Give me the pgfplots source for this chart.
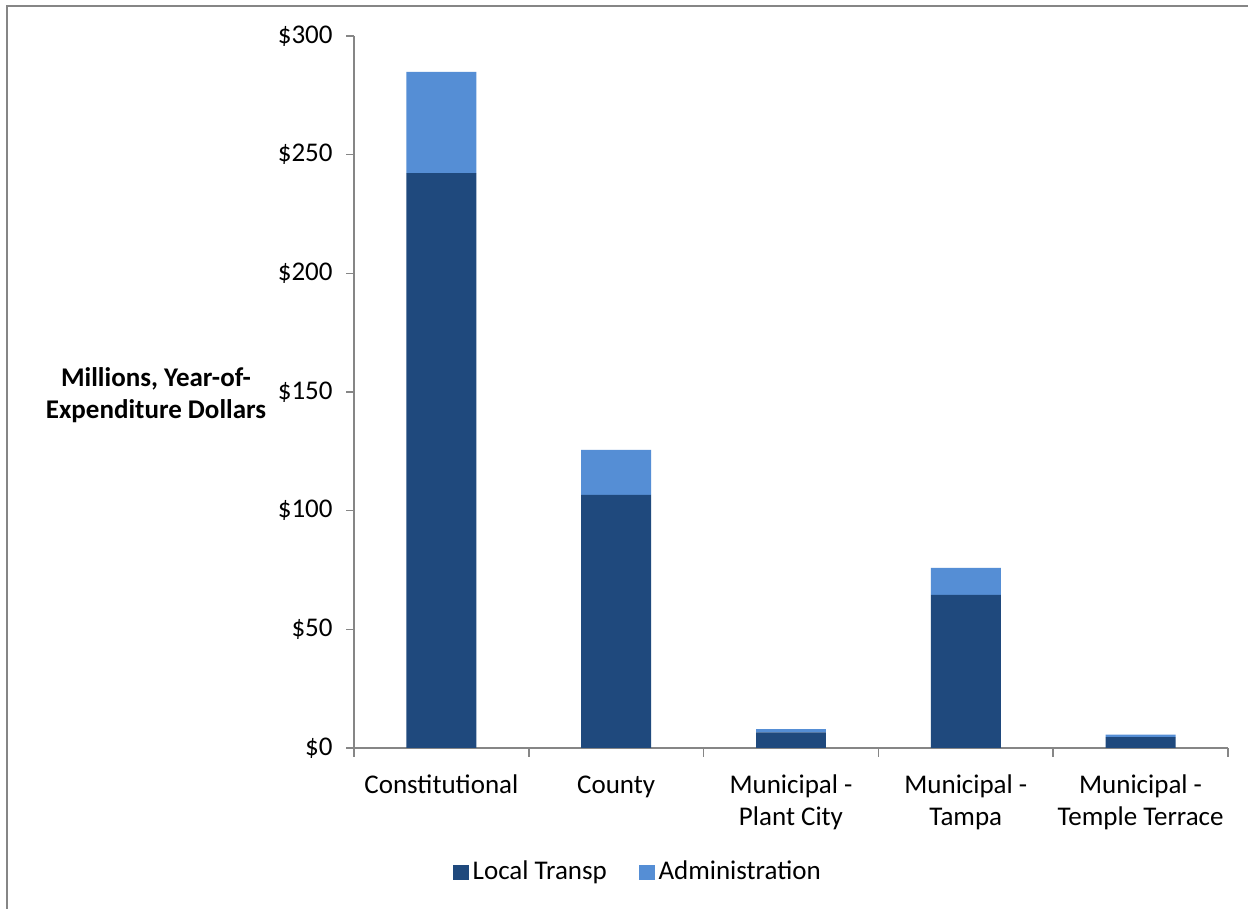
\documentclass[border=0pt]{standalone}
\usepackage{pgfplots}
\pgfplotsset{compat=1.18}
\usepackage{fontspec}
\setmainfont{Carlito}
\definecolor{darkb}{RGB}{31,73,125}
\definecolor{lightb}{RGB}{85,142,213}
\definecolor{axgray}{RGB}{134,134,134}
\newcommand{\ff}{\fontsize{13.5}{16}\selectfont}
\begin{document}
\ff
\begin{tikzpicture}
\useasboundingbox (0,0) rectangle (624pt,454.5pt);
\fill[white] (0,0) rectangle (624pt,454.5pt);
\draw[axgray,line width=0.9pt] (3.5pt,0) -- (3.5pt,451.5pt) -- (624pt,451.5pt);
\begin{axis}[
  at={(177pt,80.5pt)}, anchor=south west,
  scale only axis, width=437pt, height=356pt,
  ybar stacked, bar width=0.4,
  xmin=-0.5, xmax=4.5, ymin=0, ymax=300,
  axis x line*=bottom, axis y line*=left,
  axis line style={axgray,line width=0.8pt,-},
  tick style={axgray,line width=0.8pt},
  tick align=outside,
  xtick={0,1,2,3,4},
  xticklabels={\strut Constitutional,\strut County,{\strut Municipal -\\Plant City},{\strut Municipal -\\Tampa},{\strut Municipal -\\Temple Terrace}},
  xticklabel style={align=center, font=\ff, anchor=north, yshift=-3pt},
  major x tick style={draw=none},
  minor xtick={-0.5,0.5,1.5,2.5,3.5,4.5},
  minor tick length=4.5pt,
  ytick={0,50,100,150,200,250,300},
  major tick length=4pt,
  yticklabel={\$\pgfmathprintnumber{\tick}},
  /pgf/number format/assume math mode=true,
  yticklabel style={font=\ff, xshift=-2pt},
  legend style={at={(0.326,-0.175)}, anchor=center, draw=none, legend columns=2,
    font=\ff, column sep=0pt, nodes={inner xsep=2pt},
    /tikz/every even column/.append style={column sep=14pt}},
  legend image code/.code={\draw[#1,draw=none] (0pt,-3.9pt) rectangle (7.8pt,3.9pt);},
  clip=false,
]
\addplot[fill=darkb, draw=none] coordinates {(0,242.2) (1,106.6) (2,6.6) (3,64.5) (4,4.6)};
\addplot[fill=lightb, draw=none] coordinates {(0,42.7) (1,19.0) (2,1.3) (3,11.4) (4,1.0)};
\legend{Local Transp, Administration}
\end{axis}
\node[font=\bfseries\ff, align=center] at (78pt,257pt) {Millions, Year-of-\\Expenditure Dollars};
\end{tikzpicture}
\end{document}
